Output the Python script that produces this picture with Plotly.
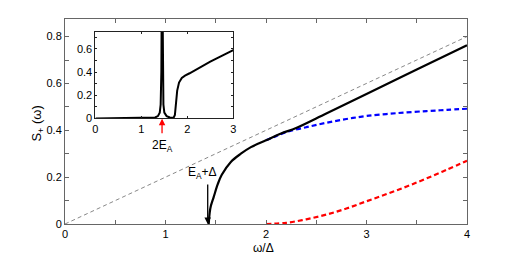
import plotly.graph_objects as go

# ---- data ----
diag_x = [0, 4]
diag_y = [0, 0.8]

main_x = [1.43, 1.44, 1.45, 1.48, 1.52, 1.56, 1.65, 1.75, 1.85, 2.0, 2.15, 2.3, 2.6, 3.0, 3.5, 4.0]
main_y = [0.0, 0.05, 0.075, 0.116, 0.17, 0.21, 0.265, 0.30, 0.328, 0.357, 0.386, 0.41, 0.472, 0.555, 0.659, 0.763]

blue_x = [2.0, 2.1, 2.2, 2.4, 2.6, 2.8, 3.0, 3.3, 3.6, 3.8, 4.0]
blue_y = [0.357, 0.375, 0.392, 0.413, 0.432, 0.448, 0.461, 0.473, 0.482, 0.487, 0.492]

red_x = [2.0, 2.2, 2.4, 2.6, 2.8, 3.0, 3.2, 3.4, 3.6, 3.8, 4.0]
red_y = [0.0, 0.005, 0.02, 0.04, 0.066, 0.097, 0.128, 0.16, 0.195, 0.232, 0.27]

inset_x = [0, 1.2, 1.3, 1.36, 1.40, 1.42, 1.435, 1.45, 1.465, 1.48, 1.50, 1.55, 1.62, 1.70,
           1.73, 1.75, 1.78, 1.82, 1.88, 1.95, 2.05, 2.5, 3.0]
inset_y = [0, 0.003, 0.008, 0.02, 0.05, 0.12, 0.4, 1.5, 0.4, 0.12, 0.05, 0.02, 0.008, 0.005,
           0.03, 0.12, 0.24, 0.31, 0.35, 0.37, 0.39, 0.49, 0.59]

main_xticks = [0, 0.5, 1, 1.5, 2, 2.5, 3, 3.5, 4]
main_xtext = ["0", "", "1", "", "2", "", "3", "", "4"]
main_yticks = [0, 0.1, 0.2, 0.3, 0.4, 0.5, 0.6, 0.7, 0.8]
main_ytext = ["0", "", "0.2", "", "0.4", "", "0.6", "", "0.8"]
inset_xticks = [0, 1, 2, 3]
inset_yticks = [0, 0.1, 0.2, 0.3, 0.4, 0.5, 0.6, 0.7]
inset_ytext = ["0", "", "0.2", "", "0.4", "", "0.6", ""]

arrow_x = 1.42
peak_x = 1.45

FONT = "Liberation Sans, Arial, sans-serif"

fig = go.Figure()
fig.add_trace(go.Scatter(x=diag_x, y=diag_y, mode="lines",
                         line=dict(color="#555", width=0.7, dash="4px,3px"), xaxis="x", yaxis="y"))
fig.add_trace(go.Scatter(x=blue_x, y=blue_y, mode="lines", line_shape="spline",
                         line=dict(color="#0000ff", width=2.2, dash="5px,3px"), xaxis="x", yaxis="y"))
fig.add_trace(go.Scatter(x=red_x, y=red_y, mode="lines", line_shape="spline",
                         line=dict(color="#ff0000", width=2.2, dash="5px,3px"), xaxis="x", yaxis="y"))
fig.add_trace(go.Scatter(x=main_x, y=main_y, mode="lines", line_shape="spline",
                         line=dict(color="black", width=2.2), xaxis="x", yaxis="y"))
fig.add_trace(go.Scatter(x=inset_x, y=inset_y, mode="lines",
                         line=dict(color="black", width=2), xaxis="x2", yaxis="y2"))

axis_common = dict(showline=True, linecolor="#666", linewidth=1, mirror="ticks",
                   ticks="inside", ticklen=4, tickcolor="#666", showgrid=False,
                   zeroline=False, tickfont=dict(family=FONT, size=11, color="black"))

fig.update_layout(
    width=518, height=257,
    margin=dict(l=65.3, r=51.3, t=18.7, b=33),
    paper_bgcolor="white", plot_bgcolor="white",
    showlegend=False,
    xaxis=dict(range=[0, 4], tickvals=main_xticks, ticktext=main_xtext, **axis_common),
    yaxis=dict(range=[0, 0.875], tickvals=main_yticks, ticktext=main_ytext, **axis_common),
    xaxis2=dict(range=[0, 3], domain=[0.0757, 0.4185], anchor="y2", tickvals=inset_xticks,
                **{**axis_common, "linecolor": "#222", "tickcolor": "#222", "ticklen": 2}),
    yaxis2=dict(range=[0, 0.75], domain=[0.515, 0.9386], anchor="x2", tickvals=inset_yticks,
                ticktext=inset_ytext,
                **{**axis_common, "linecolor": "#222", "tickcolor": "#222", "ticklen": 2}),
)

# white background under inset
fig.add_shape(type="rect", xref="x2 domain", yref="y2 domain", x0=0, x1=1, y0=0, y1=1,
              fillcolor="white", line=dict(width=0), layer="below")

# axis titles
fig.add_annotation(xref="paper", yref="paper", x=0.494, y=-0.075, yanchor="top",
                   text="ω/Δ", showarrow=False, font=dict(family=FONT, size=12, color="black"))
fig.add_annotation(xref="paper", x=-0.095, yref="y", y=0.43, textangle=-90,
                   text="S<sub>+</sub> (ω)", showarrow=False,
                   font=dict(family=FONT, size=13, color="black"))

# E_A + Delta arrow
fig.add_annotation(x=arrow_x, y=0.0, xref="x", yref="y", ax=arrow_x, ay=0.175, axref="x", ayref="y",
                   showarrow=True, arrowhead=2, arrowsize=1, arrowwidth=1.3, arrowcolor="black", text="")
fig.add_annotation(x=arrow_x - 0.05, y=0.175, xref="x", yref="y", yanchor="bottom",
                   text="E<sub>A</sub>+Δ", showarrow=False,
                   font=dict(family=FONT, size=12, color="black"))

# 2E_A red arrow in inset
fig.add_annotation(x=peak_x, y=-0.005, xref="x2", yref="y2 domain", ax=0, ay=16,
                   showarrow=True, arrowhead=2, arrowsize=1, arrowwidth=1.3, arrowcolor="#ff0000", text="")
fig.add_annotation(x=peak_x, y=-0.2, xref="x2", yref="y2 domain", yanchor="top",
                   text="2E<sub>A</sub>", showarrow=False,
                   font=dict(family=FONT, size=12, color="black"))

fig.write_html("out.html", config={"displayModeBar": False},
               post_script="document.body.style.margin='0';document.body.style.overflow='hidden';")
